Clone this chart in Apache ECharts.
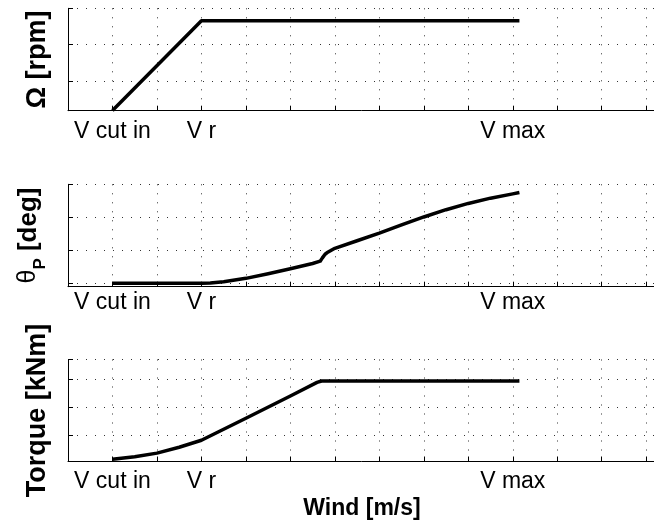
<!DOCTYPE html>
<html>
<head>
<meta charset="utf-8">
<script src="https://cdn.jsdelivr.net/npm/echarts@6/dist/echarts.min.js"></script>
<style>
  html, body { margin: 0; padding: 0; background: #ffffff; }
  #chart { width: 654px; height: 525px; }
</style>
</head>
<body>
<div id="chart"></div>
<script>
// Characteristic wind speeds marked on the shared wind axis
const windTicks = [1, 3, 10];
const windTickNames = ['V cut in', 'V r', 'V max'];

// Rotor speed Ω versus wind speed
const speedWind = [1, 3, 10.15];
const speedVal = [0.19, 2.66, 2.66];

// Blade pitch angle θP versus wind speed
const pitchWind = [1, 3, 3.2, 3.5, 4, 4.5, 5, 5.5, 5.67, 5.72, 5.78, 5.85, 5.93, 6, 6.5, 7, 7.5, 8, 8.5, 9, 9.5, 10, 10.15];
const pitchVal = [0, 0, 0.01, 0.05, 0.15, 0.29, 0.44, 0.6, 0.67, 0.77, 0.88, 0.95, 1.01, 1.06, 1.29, 1.52, 1.77, 2.01, 2.23, 2.42, 2.58, 2.71, 2.75];

// Generator torque versus wind speed
const torqueWind = [1, 1.5, 2, 2.5, 3, 4, 5, 5.6, 5.7, 10.15];
const torqueVal = [0.13, 0.22, 0.35, 0.56, 0.81, 1.6, 2.4, 2.89, 2.94, 2.94];

const zip = (xs, ys) => xs.map((x, i) => [x, ys[i]]);

const FONT = "'Liberation Sans', Arial, Helvetica, sans-serif";
const dotted = { color: '#333333', width: 1, type: [1, 8] };

const chart = echarts.init(document.getElementById('chart'), null, { renderer: 'canvas' });

const gridBase = { left: 68, width: 622.65, containLabel: false, outerBoundsMode: 'none' };

function xAxisFor(gridIndex, margin) {
  return {
    type: 'value',
    gridIndex: gridIndex,
    min: 0,
    max: 14,
    interval: 1,
    axisLine: { show: true, onZero: false, lineStyle: { color: '#000', width: 1 } },
    axisTick: { show: true, inside: true, length: 5, lineStyle: { color: '#000', width: 1 } },
    splitLine: { show: true, lineStyle: dotted },
    axisLabel: {
      show: true,
      margin: margin,
      color: '#000',
      fontFamily: FONT,
      fontSize: 23,
      formatter: function (v) {
        const k = windTicks.indexOf(Math.round(v * 1000) / 1000);
        return k >= 0 ? windTickNames[k] : '';
      }
    }
  };
}

function yAxisFor(gridIndex, min, max, name, nameGap, rich) {
  return {
    type: 'value',
    gridIndex: gridIndex,
    min: min,
    max: max,
    splitNumber: 3,
    minInterval: 1,
    maxInterval: 1,
    name: name,
    nameLocation: 'middle',
    nameRotate: 90,
    nameGap: nameGap,
    nameTextStyle: {
      color: '#000',
      fontFamily: FONT,
      fontSize: 27,
      fontWeight: 'bold',
      rich: rich
    },
    axisLine: { show: true, onZero: false, lineStyle: { color: '#000', width: 1 } },
    axisTick: { show: true, inside: true, length: 5, lineStyle: { color: '#000', width: 1 } },
    splitLine: { show: true, lineStyle: dotted },
    axisLabel: { show: false }
  };
}

const lineStyle = { color: '#000', width: 3.5, cap: 'butt', join: 'round' };

const option = {
  animation: false,
  backgroundColor: '#ffffff',
  grid: [
    Object.assign({ top: 8.3, height: 102.4 }, gridBase),
    Object.assign({ top: 184.3, height: 102.4 }, gridBase),
    Object.assign({ top: 359.5, height: 102 }, gridBase)
  ],
  xAxis: [xAxisFor(0, 9), xAxisFor(1, 4), xAxisFor(2, 9)],
  yAxis: [
    yAxisFor(0, 0.183, 3, 'Ω [rpm]', 17),
    yAxisFor(1, -0.103, 3, '{t|θ}{p|P}{b| [deg]}', 19, {
      t: { fontFamily: FONT, fontSize: 25, fontWeight: 'normal', lineHeight: 26, verticalAlign: 'top', color: '#000' },
      p: { fontFamily: FONT, fontSize: 17, fontWeight: 'bold', lineHeight: 33, verticalAlign: 'bottom', color: '#000' },
      b: { fontFamily: FONT, fontSize: 26, fontWeight: 'bold', lineHeight: 26, verticalAlign: 'top', color: '#000' }
    }),
    yAxisFor(2, 0.0485, 3.711, 'Torque [kNm]', 17)
  ],
  graphic: [{
    type: 'text',
    x: 362,
    y: 509,
    style: {
      text: 'Wind [m/s]',
      fill: '#000',
      font: 'bold 23px ' + FONT,
      textAlign: 'center',
      textVerticalAlign: 'middle'
    }
  }],
  series: [
    { type: 'line', xAxisIndex: 0, yAxisIndex: 0, data: zip(speedWind, speedVal), showSymbol: false, lineStyle: lineStyle, silent: true },
    { type: 'line', xAxisIndex: 1, yAxisIndex: 1, data: zip(pitchWind, pitchVal), showSymbol: false, lineStyle: lineStyle, silent: true },
    { type: 'line', xAxisIndex: 2, yAxisIndex: 2, data: zip(torqueWind, torqueVal), showSymbol: false, lineStyle: lineStyle, silent: true }
  ]
};

chart.setOption(option);
</script>
</body>
</html>
